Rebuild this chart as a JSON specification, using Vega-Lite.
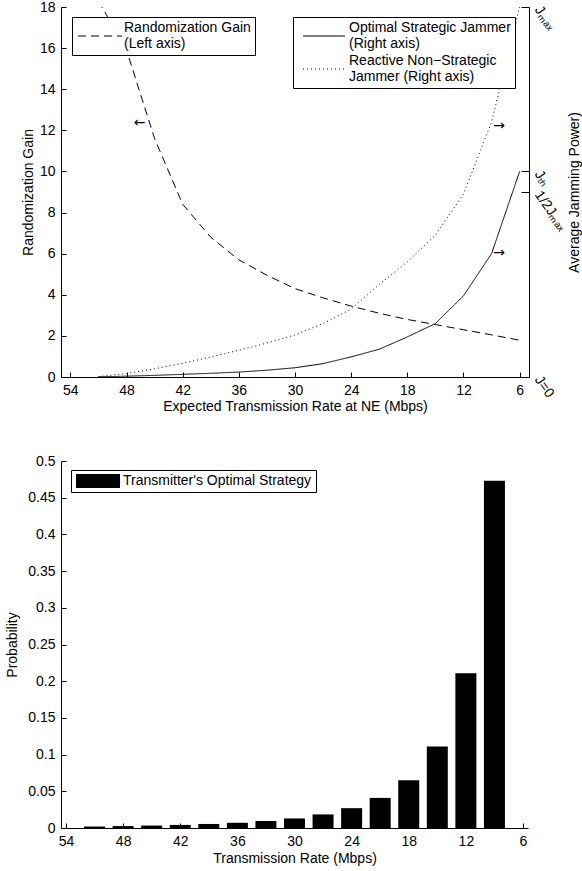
{
  "$schema": "https://vega.github.io/schema/vega-lite/v6.json",
  "padding": {"left": 5, "top": 0, "right": 0, "bottom": 5},
  "background": "white",
  "spacing": 41,
  "resolve": {"legend": {"fill": "independent", "strokeDash": "independent"}},
  "config": {
    "font": "Liberation Sans",
    "view": {"stroke": null},
    "axis": {
      "labelFont": "Liberation Sans", "labelFontSize": 14, "labelColor": "black",
      "titleFont": "Liberation Sans", "titleFontSize": 14, "titleFontWeight": "normal", "titleColor": "black",
      "domainColor": "black", "tickColor": "black", "grid": false,
      "tickSize": -5, "labelPadding": 11, "labelFlush": false, "labelOverlap": false
    },
    "legend": {
      "labelFont": "Liberation Sans", "labelFontSize": 14, "labelColor": "black",
      "strokeColor": "black", "fillColor": "white", "cornerRadius": 0, "padding": 4,
      "labelLimit": 400
    }
  },
  "datasets": {
    "gain": [
      {"rate": 51, "gain": 18.3, "series": "Randomization Gain"},
      {"rate": 48, "gain": 15.9, "series": "Randomization Gain"},
      {"rate": 45, "gain": 11.6, "series": "Randomization Gain"},
      {"rate": 42, "gain": 8.4, "series": "Randomization Gain"},
      {"rate": 39, "gain": 6.8, "series": "Randomization Gain"},
      {"rate": 36, "gain": 5.7, "series": "Randomization Gain"},
      {"rate": 33, "gain": 4.95, "series": "Randomization Gain"},
      {"rate": 30, "gain": 4.3, "series": "Randomization Gain"},
      {"rate": 27, "gain": 3.85, "series": "Randomization Gain"},
      {"rate": 24, "gain": 3.45, "series": "Randomization Gain"},
      {"rate": 21, "gain": 3.1, "series": "Randomization Gain"},
      {"rate": 18, "gain": 2.8, "series": "Randomization Gain"},
      {"rate": 15, "gain": 2.55, "series": "Randomization Gain"},
      {"rate": 12, "gain": 2.3, "series": "Randomization Gain"},
      {"rate": 9, "gain": 2.05, "series": "Randomization Gain"},
      {"rate": 6, "gain": 1.79, "series": "Randomization Gain"}
    ],
    "jam": [
      {"rate": 51, "power": 0.01, "series": "Optimal Strategic Jammer"},
      {"rate": 48, "power": 0.04, "series": "Optimal Strategic Jammer"},
      {"rate": 45, "power": 0.08, "series": "Optimal Strategic Jammer"},
      {"rate": 42, "power": 0.13, "series": "Optimal Strategic Jammer"},
      {"rate": 39, "power": 0.18, "series": "Optimal Strategic Jammer"},
      {"rate": 36, "power": 0.24, "series": "Optimal Strategic Jammer"},
      {"rate": 33, "power": 0.33, "series": "Optimal Strategic Jammer"},
      {"rate": 30, "power": 0.45, "series": "Optimal Strategic Jammer"},
      {"rate": 27, "power": 0.65, "series": "Optimal Strategic Jammer"},
      {"rate": 24, "power": 0.98, "series": "Optimal Strategic Jammer"},
      {"rate": 21, "power": 1.35, "series": "Optimal Strategic Jammer"},
      {"rate": 18, "power": 1.95, "series": "Optimal Strategic Jammer"},
      {"rate": 15, "power": 2.6, "series": "Optimal Strategic Jammer"},
      {"rate": 12, "power": 3.95, "series": "Optimal Strategic Jammer"},
      {"rate": 9, "power": 6.0, "series": "Optimal Strategic Jammer"},
      {"rate": 6, "power": 10.0, "series": "Optimal Strategic Jammer"},
      {"rate": 51, "power": 0.02, "series": "Reactive Non−Strategic"},
      {"rate": 48, "power": 0.17, "series": "Reactive Non−Strategic"},
      {"rate": 45, "power": 0.4, "series": "Reactive Non−Strategic"},
      {"rate": 42, "power": 0.67, "series": "Reactive Non−Strategic"},
      {"rate": 39, "power": 0.97, "series": "Reactive Non−Strategic"},
      {"rate": 36, "power": 1.3, "series": "Reactive Non−Strategic"},
      {"rate": 33, "power": 1.65, "series": "Reactive Non−Strategic"},
      {"rate": 30, "power": 2.05, "series": "Reactive Non−Strategic"},
      {"rate": 27, "power": 2.6, "series": "Reactive Non−Strategic"},
      {"rate": 24, "power": 3.3, "series": "Reactive Non−Strategic"},
      {"rate": 21, "power": 4.5, "series": "Reactive Non−Strategic"},
      {"rate": 18, "power": 5.6, "series": "Reactive Non−Strategic"},
      {"rate": 15, "power": 6.9, "series": "Reactive Non−Strategic"},
      {"rate": 12, "power": 8.9, "series": "Reactive Non−Strategic"},
      {"rate": 9, "power": 12.4, "series": "Reactive Non−Strategic"},
      {"rate": 6, "power": 18.0, "series": "Reactive Non−Strategic"}
    ],
    "arrows": [
      {"rate": 46.6, "value": 12.37, "text": "←"},
      {"rate": 8.2, "value": 12.23, "text": "→"},
      {"rate": 8.2, "value": 6.03, "text": "→"}
    ],
    "probs": [
      {"rate": 51, "prob": 0.002, "series": "Transmitter's Optimal Strategy"},
      {"rate": 48, "prob": 0.0026, "series": "Transmitter's Optimal Strategy"},
      {"rate": 45, "prob": 0.0033, "series": "Transmitter's Optimal Strategy"},
      {"rate": 42, "prob": 0.0042, "series": "Transmitter's Optimal Strategy"},
      {"rate": 39, "prob": 0.0055, "series": "Transmitter's Optimal Strategy"},
      {"rate": 36, "prob": 0.0071, "series": "Transmitter's Optimal Strategy"},
      {"rate": 33, "prob": 0.0095, "series": "Transmitter's Optimal Strategy"},
      {"rate": 30, "prob": 0.013, "series": "Transmitter's Optimal Strategy"},
      {"rate": 27, "prob": 0.0185, "series": "Transmitter's Optimal Strategy"},
      {"rate": 24, "prob": 0.027, "series": "Transmitter's Optimal Strategy"},
      {"rate": 21, "prob": 0.041, "series": "Transmitter's Optimal Strategy"},
      {"rate": 18, "prob": 0.065, "series": "Transmitter's Optimal Strategy"},
      {"rate": 15, "prob": 0.111, "series": "Transmitter's Optimal Strategy"},
      {"rate": 12, "prob": 0.211, "series": "Transmitter's Optimal Strategy"},
      {"rate": 9, "prob": 0.473, "series": "Transmitter's Optimal Strategy"}
    ]
  },
  "vconcat": [
    {
      "width": 468,
      "height": 370,
      "layer": [
        {
          "data": {"name": "gain"},
          "mark": {"type": "line", "clip": true, "color": "black", "strokeWidth": 1},
          "encoding": {
            "x": {
              "field": "rate", "type": "quantitative",
              "scale": {"domain": [5, 55], "reverse": true, "nice": false, "zero": false},
              "axis": {"values": [54, 48, 42, 36, 30, 24, 18, 12, 6], "title": "Expected Transmission Rate at NE (Mbps)", "titlePadding": 2}
            },
            "y": {
              "field": "gain", "type": "quantitative",
              "scale": {"domain": [0, 18], "nice": false},
              "axis": {"values": [0, 2, 4, 6, 8, 10, 12, 14, 16, 18], "title": "Randomization Gain", "titlePadding": 4}
            },
            "strokeDash": {
              "field": "series", "type": "nominal",
              "scale": {"domain": ["Randomization Gain"], "range": [[8, 5]]},
              "legend": {
                "orient": "none", "legendX": 11, "legendY": 10, "title": null,
                "symbolType": "M-4,1.4545H4", "symbolSize": 121, "symbolStrokeColor": "black", "symbolStrokeWidth": 1,
                "symbolFillColor": "transparent", "symbolOffset": 17, "labelOffset": 17,
                "labelExpr": "['Randomization Gain', '(Left axis)']"
              }
            }
          }
        },
        {
          "data": {"name": "jam"},
          "mark": {"type": "line", "clip": true, "color": "black", "strokeWidth": 1},
          "encoding": {
            "x": {"field": "rate", "type": "quantitative"},
            "y": {
              "field": "power", "type": "quantitative",
              "scale": {"domain": [0, 18], "nice": false},
              "axis": {
                "orient": "right", "values": [0, 9, 10, 18],
                "labelExpr": "datum.value == 0 ? 'J=0' : datum.value == 9 ? '1/2Jₘₐₓ' : datum.value == 10 ? 'Jₜₕ' : 'Jₘₐₓ'",
                "labelAngle": 55, "labelAlign": "left", "labelBaseline": "middle",
                "tickSize": -8, "labelPadding": 16,
                "title": "Average Jamming Power)", "titleAngle": -90, "titlePadding": 13
              }
            },
            "strokeDash": {
              "field": "series", "type": "nominal",
              "scale": {"domain": ["Optimal Strategic Jammer", "Reactive Non−Strategic"], "range": [[1, 0], [1, 3]]},
              "legend": {
                "orient": "none", "legendX": 232, "legendY": 10, "title": null,
                "symbolType": "M-3.818,1.4545H3.818", "symbolSize": 121, "symbolStrokeColor": "black", "symbolStrokeWidth": 1,
                "symbolFillColor": "transparent", "symbolOffset": 20, "labelOffset": 18,
                "rowPadding": 3,
                "labelExpr": "datum.label == 'Optimal Strategic Jammer' ? ['Optimal Strategic Jammer', '(Right axis)'] : ['Reactive Non−Strategic', 'Jammer (Right axis)']"
              }
            }
          }
        },
        {
          "data": {"name": "arrows"},
          "mark": {"type": "text", "fontSize": 14, "font": "DejaVu Sans", "color": "black", "align": "center", "baseline": "middle"},
          "encoding": {
            "x": {"field": "rate", "type": "quantitative"},
            "y": {"field": "value", "type": "quantitative", "scale": {"domain": [0, 18], "nice": false}, "axis": null},
            "text": {"field": "text"}
          }
        }
      ],
      "resolve": {"scale": {"y": "independent", "strokeDash": "independent"}, "legend": {"strokeDash": "independent"}}
    },
    {
      "width": 467,
      "height": 367,
      "data": {"name": "probs"},
      "mark": {"type": "bar", "size": 21},
      "encoding": {
        "x": {
          "field": "rate", "type": "quantitative",
          "scale": {"domain": [6, 54], "reverse": true, "nice": false, "zero": false},
          "axis": {"values": [54, 48, 42, 36, 30, 24, 18, 12, 6], "title": "Transmission Rate (Mbps)", "titlePadding": 3}
        },
        "y": {
          "field": "prob", "type": "quantitative",
          "scale": {"domain": [0, 0.5], "nice": false},
          "axis": {"values": [0, 0.05, 0.1, 0.15, 0.2, 0.25, 0.3, 0.35, 0.4, 0.45, 0.5], "format": "~g", "title": "Probability", "titlePadding": 8}
        },
        "fill": {
          "field": "series", "type": "nominal",
          "scale": {"domain": ["Transmitter's Optimal Strategy"], "range": ["black"]},
          "legend": {
            "orient": "none", "legendX": 10, "legendY": 9, "title": null,
            "symbolType": "M-3.1429,-1H3.1429V1H-3.1429Z", "symbolSize": 196, "symbolStrokeWidth": 0, "symbolOpacity": 1,
            "symbolOffset": 16, "labelOffset": 18
          }
        }
      }
    }
  ]
}
